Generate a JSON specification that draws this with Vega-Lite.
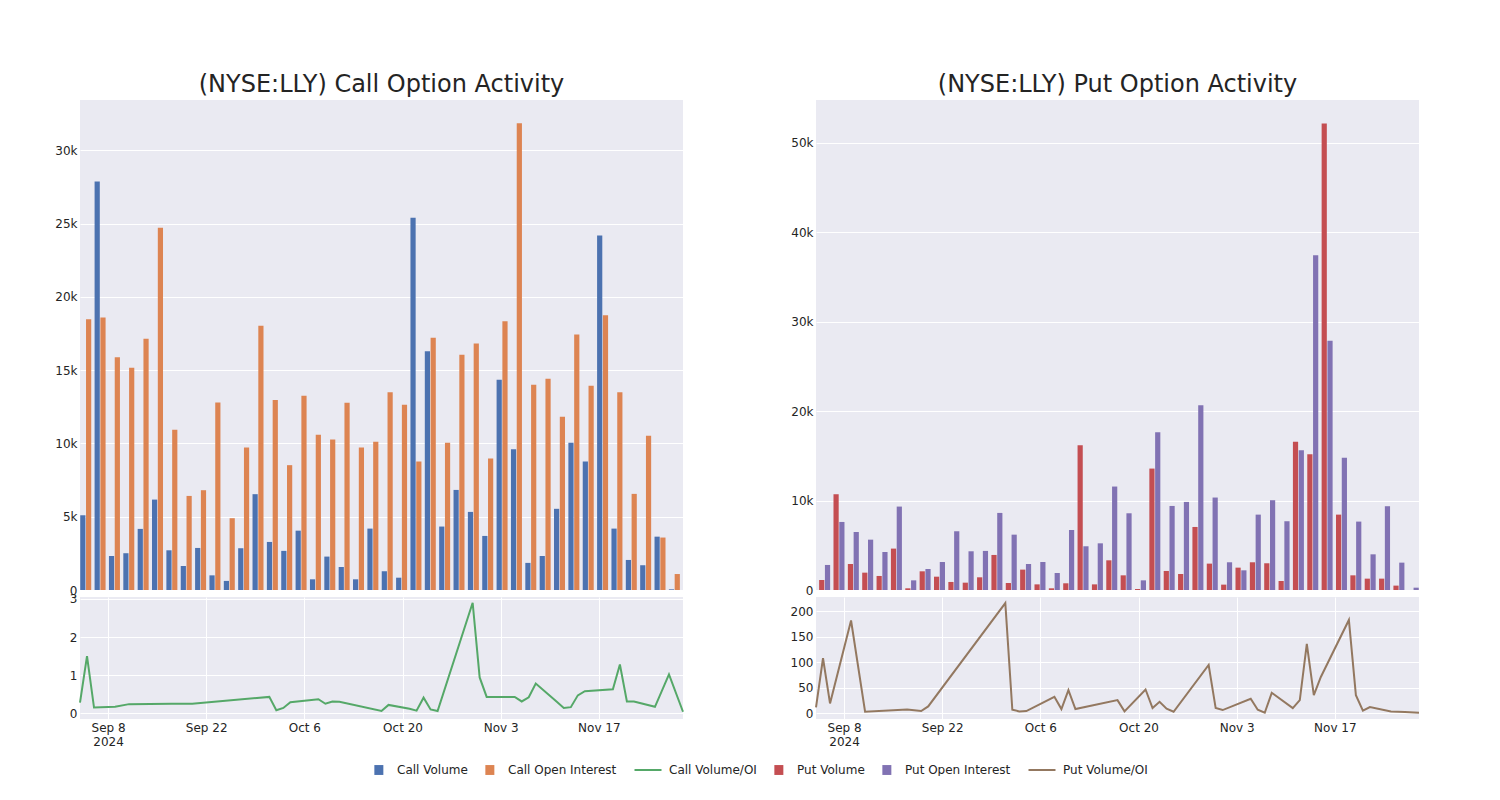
{
  "$schema": "https://vega.github.io/schema/vega-lite/v6.json",
  "background": "white",
  "padding": {"left": 54, "top": 73, "right": 0, "bottom": 0},
  "datasets": {
    "d": [
      {"date": "2024-09-04", "cv": 5100, "coi": 18470, "pv": 1120, "poi": 2800, "cr": 0.28, "pr": 11.7},
      {"date": "2024-09-05", "cv": 27880, "coi": 18590, "pv": 10710, "poi": 7610, "cr": 1.5, "pr": 108},
      {"date": "2024-09-06", "cv": 2320, "coi": 15880, "pv": 2910, "poi": 6490, "cr": 0.15, "pr": 19.5},
      {"date": "2024-09-09", "cv": 2510, "coi": 15170, "pv": 1940, "poi": 5630, "cr": 0.17, "pr": 182},
      {"date": "2024-09-11", "cv": 4170, "coi": 17150, "pv": 1570, "poi": 4250, "cr": 0.24, "pr": 3.2},
      {"date": "2024-09-17", "cv": 6170, "coi": 24720, "pv": 4630, "poi": 9330, "cr": 0.25, "pr": 7.8},
      {"date": "2024-09-19", "cv": 2710, "coi": 10930, "pv": 190, "poi": 1080, "cr": 0.25, "pr": 4.5},
      {"date": "2024-09-20", "cv": 1640, "coi": 6420, "pv": 2090, "poi": 2350, "cr": 0.25, "pr": 13.6},
      {"date": "2024-10-01", "cv": 2870, "coi": 6810, "pv": 1490, "poi": 3130, "cr": 0.43, "pr": 216},
      {"date": "2024-10-02", "cv": 1000, "coi": 12800, "pv": 900, "poi": 6570, "cr": 0.08, "pr": 7.1},
      {"date": "2024-10-03", "cv": 620, "coi": 4900, "pv": 820, "poi": 4330, "cr": 0.14, "pr": 3.9},
      {"date": "2024-10-04", "cv": 2850, "coi": 9730, "pv": 1420, "poi": 4370, "cr": 0.29, "pr": 4.5},
      {"date": "2024-10-08", "cv": 6540, "coi": 18040, "pv": 3920, "poi": 8620, "cr": 0.37, "pr": 32.5},
      {"date": "2024-10-09", "cv": 3280, "coi": 12960, "pv": 780, "poi": 6190, "cr": 0.25, "pr": 8.4},
      {"date": "2024-10-10", "cv": 2670, "coi": 8520, "pv": 2280, "poi": 2910, "cr": 0.31, "pr": 45.5},
      {"date": "2024-10-11", "cv": 4050, "coi": 13260, "pv": 630, "poi": 3130, "cr": 0.3, "pr": 8.4},
      {"date": "2024-10-17", "cv": 730, "coi": 10590, "pv": 190, "poi": 1900, "cr": 0.06, "pr": 26},
      {"date": "2024-10-18", "cv": 2280, "coi": 10270, "pv": 750, "poi": 6720, "cr": 0.22, "pr": 3.9},
      {"date": "2024-10-21", "cv": 1570, "coi": 12780, "pv": 16190, "poi": 4890, "cr": 0.12, "pr": 46.8},
      {"date": "2024-10-22", "cv": 730, "coi": 9730, "pv": 630, "poi": 5220, "cr": 0.07, "pr": 10.4},
      {"date": "2024-10-23", "cv": 4190, "coi": 10110, "pv": 3320, "poi": 11570, "cr": 0.41, "pr": 22.7},
      {"date": "2024-10-24", "cv": 1280, "coi": 13490, "pv": 1640, "poi": 8580, "cr": 0.1, "pr": 9.1},
      {"date": "2024-10-25", "cv": 840, "coi": 12640, "pv": 110, "poi": 1080, "cr": 0.06, "pr": 3.2},
      {"date": "2024-10-30", "cv": 25400, "coi": 8770, "pv": 13580, "poi": 17650, "cr": 2.9, "pr": 94.8},
      {"date": "2024-10-31", "cv": 16290, "coi": 17220, "pv": 2130, "poi": 9400, "cr": 0.94, "pr": 10.4},
      {"date": "2024-11-01", "cv": 4330, "coi": 10050, "pv": 1790, "poi": 9850, "cr": 0.43, "pr": 6.5},
      {"date": "2024-11-05", "cv": 6830, "coi": 16060, "pv": 7050, "poi": 20670, "cr": 0.43, "pr": 28.6},
      {"date": "2024-11-06", "cv": 5330, "coi": 16830, "pv": 2950, "poi": 10340, "cr": 0.31, "pr": 7.1},
      {"date": "2024-11-07", "cv": 3690, "coi": 8970, "pv": 600, "poi": 3100, "cr": 0.42, "pr": 1.3},
      {"date": "2024-11-08", "cv": 14350, "coi": 18340, "pv": 2500, "poi": 2200, "cr": 0.78, "pr": 40.3},
      {"date": "2024-11-11", "cv": 9610, "coi": 31850, "pv": 3100, "poi": 8430, "cr": 0.3, "pr": 10.4},
      {"date": "2024-11-12", "cv": 1850, "coi": 14010, "pv": 2990, "poi": 10040, "cr": 0.14, "pr": 26},
      {"date": "2024-11-13", "cv": 2320, "coi": 14420, "pv": 1010, "poi": 7690, "cr": 0.16, "pr": 136},
      {"date": "2024-11-14", "cv": 5540, "coi": 11820, "pv": 16570, "poi": 15630, "cr": 0.47, "pr": 35.7},
      {"date": "2024-11-15", "cv": 10050, "coi": 17430, "pv": 15190, "poi": 37430, "cr": 0.58, "pr": 71.4},
      {"date": "2024-11-19", "cv": 8770, "coi": 13940, "pv": 52160, "poi": 27870, "cr": 0.63, "pr": 183},
      {"date": "2024-11-20", "cv": 24190, "coi": 18750, "pv": 8430, "poi": 14780, "cr": 1.28, "pr": 35.7},
      {"date": "2024-11-21", "cv": 4190, "coi": 13490, "pv": 1640, "poi": 7650, "cr": 0.31, "pr": 5.2},
      {"date": "2024-11-22", "cv": 2050, "coi": 6560, "pv": 1270, "poi": 3990, "cr": 0.31, "pr": 12.3},
      {"date": "2024-11-25", "cv": 1690, "coi": 10520, "pv": 1270, "poi": 9370, "cr": 0.17, "pr": 3.9},
      {"date": "2024-11-27", "cv": 3640, "coi": 3580, "pv": 490, "poi": 3060, "cr": 1.02, "pr": 2.5},
      {"date": "2024-11-29", "cv": 45, "coi": 1090, "pv": 0, "poi": 260, "cr": 0.04, "pr": 1.3}
    ]
  },
  "data": {"name": "d"},
  "spacing": 103,
  "hconcat": [
    {
      "spacing": 7,
      "bounds": "flush",
      "vconcat": [
        {
          "width": 603,
          "height": 490,
          "title": {"text": "(NYSE:LLY) Call Option Activity"},
          "transform": [{"fold": ["cv", "coi"], "as": ["series", "value"]}],
          "mark": {"type": "bar", "width": 5.2},
          "encoding": {
            "x": {
              "field": "date", "type": "ordinal",
              "scale": {"paddingInner": 0.21, "paddingOuter": 0.105},
              "axis": {"labels": false, "ticks": false, "domain": false, "title": null, "grid": true, "bandPosition": 0.5,
                "values": ["2024-09-04", "2024-09-17", "2024-10-03", "2024-10-11", "2024-10-23", "2024-11-01", "2024-11-11", "2024-11-19", "2024-11-27"]}
            },
            "xOffset": {"field": "series", "type": "nominal", "sort": ["cv", "coi"], "scale": {"paddingInner": 0.08, "paddingOuter": 0}},
            "y": {
              "field": "value", "type": "quantitative",
              "scale": {"domain": [0, 33440], "nice": false},
              "axis": {"values": [0, 5000, 10000, 15000, 20000, 25000, 30000], "labelExpr": "datum.value == 0 ? '0' : format(datum.value, '~s')", "title": null}
            },
            "color": {
              "field": "series", "type": "nominal",
              "scale": {"domain": ["cv", "coi", "cr", "pv", "poi", "pr"], "range": ["#4C72B0", "#DD8452", "#55A868", "#C44E52", "#8172B3", "#937860"]},
              "legend": {
                "orient": "none", "legendX": 290, "legendY": 664, "direction": "horizontal", "title": null,
                "labelExpr": "datum.value == 'cv' ? 'Call Volume' : datum.value == 'coi' ? 'Call Open Interest' : datum.value == 'cr' ? 'Call Volume/OI' : datum.value == 'pv' ? 'Put Volume' : datum.value == 'poi' ? 'Put Open Interest' : 'Put Volume/OI'",
                "symbolSize": 900, "labelFontSize": 12, "labelFont": "DejaVu Sans", "labelColor": "#242424", "labelOffset": 15, "columnPadding": 13,
                "encode": {
                  "symbols": {
                    "update": {
                      "shape": {"signal": "(datum.value == 'cr' || datum.value == 'pr') ? 'M-0.9,0H0.9' : 'M-0.11,-0.33H0.49V0.33H-0.11Z'"},
                      "fill": {"signal": "(datum.value == 'cr' || datum.value == 'pr') ? 'transparent' : scale('color', datum.value)"},
                      "stroke": {"signal": "scale('color', datum.value)"},
                      "strokeWidth": {"signal": "(datum.value == 'cr' || datum.value == 'pr') ? 2 : 0"},
                      "opacity": {"value": 1}
                    }
                  }
                }
              }
            }
          }
        },
        {
          "width": 603,
          "height": 122,
          "mark": {"type": "line", "strokeWidth": 2},
          "encoding": {
            "x": {
              "field": "date", "type": "temporal",
              "scale": {"type": "utc", "domain": [{"year": 2024, "month": 9, "date": 4, "utc": true}, {"year": 2024, "month": 11, "date": 29, "utc": true}]},
              "axis": {
                "title": null, "grid": true,
                "values": [{"year": 2024, "month": 9, "date": 8, "utc": true}, {"year": 2024, "month": 9, "date": 22, "utc": true}, {"year": 2024, "month": 10, "date": 6, "utc": true}, {"year": 2024, "month": 10, "date": 20, "utc": true}, {"year": 2024, "month": 11, "date": 3, "utc": true}, {"year": 2024, "month": 11, "date": 17, "utc": true}],
                "labelExpr": "(utcmonth(datum.value) == 8 && utcdate(datum.value) == 8) ? [utcFormat(datum.value, '%b %-d'), '2024'] : utcFormat(datum.value, '%b %-d')"
              }
            },
            "y": {
              "field": "cr", "type": "quantitative",
              "scale": {"domain": [-0.15, 3.05], "nice": false, "zero": false},
              "axis": {"values": [0, 1, 2, 3], "title": null}
            },
            "color": {"datum": "cr", "type": "nominal"}
          }
        }
      ]
    },
    {
      "spacing": 7,
      "bounds": "flush",
      "vconcat": [
        {
          "width": 603,
          "height": 490,
          "title": {"text": "(NYSE:LLY) Put Option Activity"},
          "transform": [{"fold": ["pv", "poi"], "as": ["series", "value"]}],
          "mark": {"type": "bar", "width": 5.2},
          "encoding": {
            "x": {
              "field": "date", "type": "ordinal",
              "scale": {"paddingInner": 0.21, "paddingOuter": 0.105},
              "axis": {"labels": false, "ticks": false, "domain": false, "title": null, "grid": true, "bandPosition": 0.5,
                "values": ["2024-09-04", "2024-09-17", "2024-10-03", "2024-10-11", "2024-10-23", "2024-11-01", "2024-11-11", "2024-11-19", "2024-11-27"]}
            },
            "xOffset": {"field": "series", "type": "nominal", "sort": ["pv", "poi"], "scale": {"paddingInner": 0.08, "paddingOuter": 0}},
            "y": {
              "field": "value", "type": "quantitative",
              "scale": {"domain": [0, 54800], "nice": false},
              "axis": {"values": [0, 10000, 20000, 30000, 40000, 50000], "labelExpr": "datum.value == 0 ? '0' : format(datum.value, '~s')", "title": null}
            },
            "color": {"field": "series", "type": "nominal"}
          }
        },
        {
          "width": 603,
          "height": 122,
          "mark": {"type": "line", "strokeWidth": 2},
          "encoding": {
            "x": {
              "field": "date", "type": "temporal",
              "scale": {"type": "utc", "domain": [{"year": 2024, "month": 9, "date": 4, "utc": true}, {"year": 2024, "month": 11, "date": 29, "utc": true}]},
              "axis": {
                "title": null, "grid": true,
                "values": [{"year": 2024, "month": 9, "date": 8, "utc": true}, {"year": 2024, "month": 9, "date": 22, "utc": true}, {"year": 2024, "month": 10, "date": 6, "utc": true}, {"year": 2024, "month": 10, "date": 20, "utc": true}, {"year": 2024, "month": 11, "date": 3, "utc": true}, {"year": 2024, "month": 11, "date": 17, "utc": true}],
                "labelExpr": "(utcmonth(datum.value) == 8 && utcdate(datum.value) == 8) ? [utcFormat(datum.value, '%b %-d'), '2024'] : utcFormat(datum.value, '%b %-d')"
              }
            },
            "y": {
              "field": "pr", "type": "quantitative",
              "scale": {"domain": [-11, 228], "nice": false, "zero": false},
              "axis": {"values": [0, 50, 100, 150, 200], "title": null}
            },
            "color": {"datum": "pr", "type": "nominal"}
          }
        }
      ]
    }
  ],
  "resolve": {"scale": {"color": "shared"}, "legend": {"color": "shared"}},
  "config": {
    "font": "DejaVu Sans",
    "view": {"fill": "#EAEAF2", "stroke": null},
    "axis": {"gridColor": "#FFFFFF", "gridWidth": 1, "domain": false, "ticks": false, "labelFont": "DejaVu Sans", "labelFontSize": 12, "labelColor": "#242424", "labelPadding": 3},
    "title": {"font": "DejaVu Sans", "fontSize": 24, "fontWeight": "normal", "color": "#242424", "anchor": "middle", "offset": 3}
  }
}
